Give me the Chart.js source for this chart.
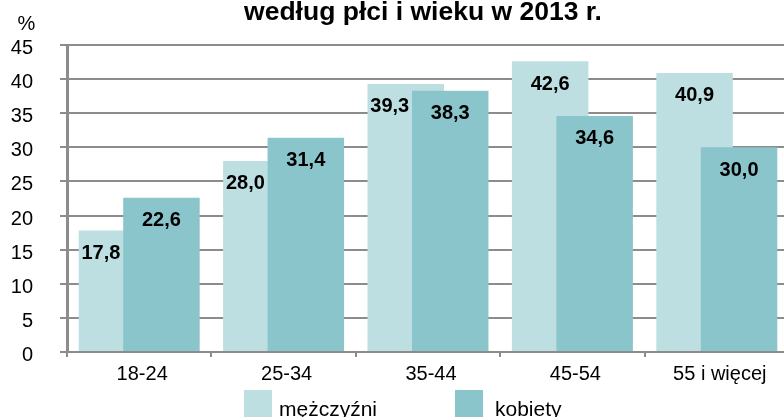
<!DOCTYPE html>
<html lang="pl">
<head>
<meta charset="utf-8">
<script src="https://cdn.jsdelivr.net/npm/chart.js@4.4.1/dist/chart.umd.min.js"></script>
<style>
  html, body { margin: 0; padding: 0; background: #fff; overflow: hidden; }
  #wrap { position: relative; width: 784px; height: 417px; overflow: hidden; font-family: 'Liberation Sans', Arial, sans-serif; }
  #chart { position: absolute; left: 0; top: -5px; }
  .leg-box { position: absolute; top: 390px; width: 28px; height: 28px; }
  .leg-txt { position: absolute; top: 398px; font-size: 21px; line-height: 1; color: #000; white-space: nowrap; }
</style>
</head>
<body>
<div id="wrap">
  <canvas id="chart" width="792" height="397"></canvas>
  <div id="legend"></div>
</div>
<script>
// dane
const categories = ['18-24', '25-34', '35-44', '45-54', '55 i więcej'];
const men = [17.8, 28.0, 39.3, 42.6, 40.9];
const women = [22.6, 31.4, 38.3, 34.6, 30.0];
const seriesNames = ['mężczyźni', 'kobiety'];
const seriesColors = ['#bddfe1', '#8ac5cb'];
const title = 'według płci i wieku w 2013 r.';
const yMax = 45;
const yStep = 5;

const FONT = "'Liberation Sans', Arial, sans-serif";
const GRID = '#8c8c8c';

// kobiety rysowane na wierzchu (słupki zachodzą na siebie)
const drawOrder = {
    id: 'drawOrder',
    beforeDatasetsDraw(chart) {
        chart.getDatasetMeta(0).controller.draw();
    },
    beforeDatasetDraw(chart, args) {
        if (args.index === 0) return false;
    }
};

const textLayer = {
    id: 'textLayer',
    afterDatasetsDraw(chart) {
        const ctx = chart.ctx;
        const area = chart.chartArea;
        const m0 = chart.getDatasetMeta(0);
        const m1 = chart.getDatasetMeta(1);
        ctx.save();
        ctx.fillStyle = '#000';
        ctx.font = 'bold 20px ' + FONT;
        ctx.textAlign = 'center';
        ctx.textBaseline = 'middle';
        m0.data.forEach((bar, i) => {
            const dark = m1.data[i];
            const y = bar.y + 23;
            let x = bar.x;
            const left = bar.x - bar.width / 2;
            const darkLeft = dark.x - dark.width / 2;
            // etykieta zasłonięta przez wyższy słupek -> na widocznej części
            if (dark.y < y + 12) x = (left + darkLeft) / 2;
            ctx.fillText(men[i].toFixed(1).replace('.', ','), x, y);
        });
        m1.data.forEach((bar, i) => {
            ctx.fillText(women[i].toFixed(1).replace('.', ','), bar.x, bar.y + 23);
        });
        // jednostka osi
        ctx.font = '20px ' + FONT;
        ctx.fillText('%', area.left - 40.5, area.top - 21);
        // tytuł
        ctx.font = 'bold 26.5px ' + FONT;
        ctx.textBaseline = 'alphabetic';
        ctx.fillText(title, (area.left + area.right) / 2 - 5, area.top - 25);
        ctx.restore();
    }
};

new Chart(document.getElementById('chart'), {
    type: 'bar',
    data: {
        labels: categories,
        datasets: [{
            label: seriesNames[0],
            data: men,
            backgroundColor: seriesColors[0],
            categoryPercentage: 0.616,
            barPercentage: 1.72
        }, {
            label: seriesNames[1],
            data: women,
            backgroundColor: seriesColors[1],
            categoryPercentage: 0.616,
            barPercentage: 1.72
        }]
    },
    options: {
        responsive: false,
        animation: false,
        events: [],
        layout: { padding: { left: 0, right: 3, top: 50, bottom: 0 } },
        plugins: {
            legend: { display: false },
            tooltip: { enabled: false },
            title: { display: false }
        },
        scales: {
            x: {
                afterFit(scale) { scale.height = 40; },
                grid: { drawOnChartArea: false, color: GRID, lineWidth: 2, tickLength: 5 },
                border: { color: GRID, width: 2 },
                ticks: {
                    color: '#000',
                    font: { family: FONT, size: 20 },
                    padding: 5,
                    labelOffset: 3,
                    autoSkip: false,
                    maxRotation: 0
                }
            },
            y: {
                min: 0,
                max: yMax,
                afterFit(scale) { scale.width = 67; },
                grid: { color: GRID, lineWidth: 2, tickLength: 7 },
                border: { color: GRID, width: 3 },
                ticks: {
                    stepSize: yStep,
                    color: '#000',
                    font: { family: FONT, size: 20 },
                    padding: 27,
                    labelOffset: 3.5
                }
            }
        }
    },
    plugins: [drawOrder, textLayer]
});

// legenda
const legendEl = document.getElementById('legend');
const legendPos = [[244, 279], [455, 495]];
seriesNames.forEach((name, i) => {
    const box = document.createElement('div');
    box.className = 'leg-box';
    box.style.left = legendPos[i][0] + 'px';
    box.style.background = seriesColors[i];
    legendEl.appendChild(box);
    const txt = document.createElement('div');
    txt.className = 'leg-txt';
    txt.style.left = legendPos[i][1] + 'px';
    txt.textContent = name;
    legendEl.appendChild(txt);
});
</script>
</body>
</html>
